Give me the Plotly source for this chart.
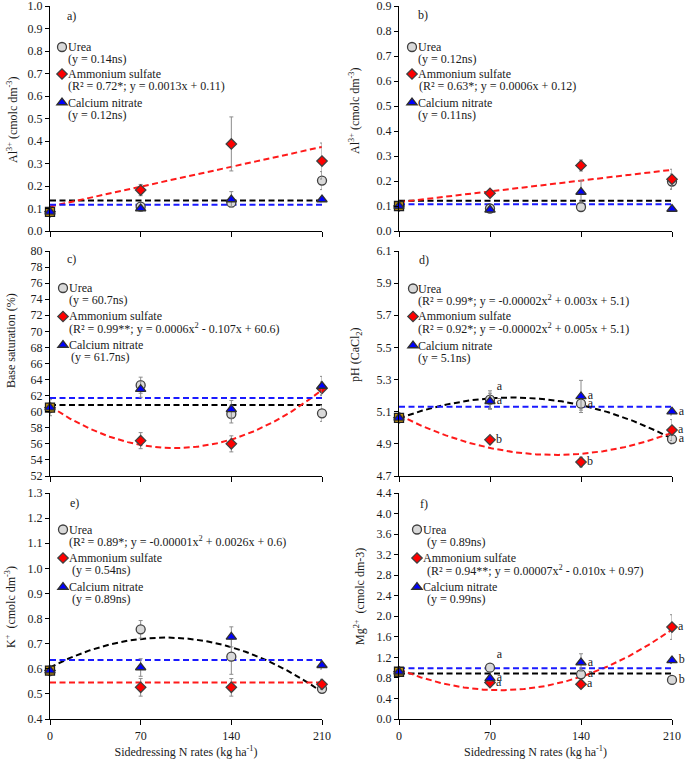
import numpy as np
import plotly.graph_objects as go

# ---------------- data ----------------
rates = [0, 70, 140, 210]

# a) Al3+ (first evaluation)
a_control = 0.085
a_control_err = 0.01
a_urea = [0.108, 0.126, 0.224]
a_urea_err = [0.010, 0.015, 0.040]
a_as = [0.182, 0.387, 0.311]
a_as_err = [0.025, 0.120, 0.080]
a_cn = [0.100, 0.140, 0.140]
a_cn_err = [0.010, 0.035, 0.010]

# b) Al3+ (second evaluation)
b_control = 0.100
b_control_err = 0.01
b_urea = [0.090, 0.096, 0.198]
b_urea_err = [0.010, 0.010, 0.030]
b_as = [0.151, 0.262, 0.207]
b_as_err = [0.010, 0.022, 0.040]
b_cn = [0.085, 0.156, 0.088]
b_cn_err = [0.010, 0.045, 0.008]

# c) Base saturation
c_control = 60.5
c_control_err = 1.0
c_urea = [63.3, 59.7, 59.8]
c_urea_err = [1.0, 1.1, 1.0]
c_as = [56.4, 56.0, 62.9]
c_as_err = [1.0, 1.0, 0.8]
c_cn = [62.8, 60.3, 63.2]
c_cn_err = [1.0, 1.1, 1.2]

# d) pH (CaCl2)
d_control = 5.062
d_control_err = 0.03
d_urea = [5.175, 5.150, 4.930]
d_urea_err = [0.055, 0.040, 0.030]
d_as = [4.925, 4.787, 4.986]
d_as_err = [0.020, 0.030, 0.065]
d_cn = [5.165, 5.195, 5.100]
d_cn_err = [0.050, 0.100, 0.020]
d_urea_letters = ["a", "a", "a"]
d_as_letters = ["b", "b", "a"]
d_cn_letters = ["a", "a", "a"]

# e) K+
e_control = 0.593
e_control_err = 0.02
e_urea = [0.757, 0.648, 0.520]
e_urea_err = [0.035, 0.070, 0.010]
e_as = [0.526, 0.526, 0.538]
e_as_err = [0.035, 0.035, 0.020]
e_cn = [0.605, 0.727, 0.614]
e_cn_err = [0.035, 0.040, 0.015]

# f) Mg2+
f_control = 0.92
f_control_err = 0.05
f_urea = [1.00, 0.87, 0.76]
f_urea_err = [0.05, 0.05, 0.06]
f_as = [0.71, 0.677, 1.79]
f_as_err = [0.05, 0.05, 0.24]
f_cn = [0.79, 1.10, 1.14]
f_cn_err = [0.05, 0.17, 0.06]
f_urea_letters = ["a", "a", "b"]
f_as_letters = ["a", "a", "a"]
f_cn_letters = ["a", "a", "b"]

series_names = ["Urea", "Ammonium sulfate", "Calcium nitrate"]

# equation lines shown under each legend entry
a_eqs = ["(y = 0.14ns)", "(R² = 0.72*; y = 0.0013x + 0.11)", "(y = 0.12ns)"]
b_eqs = ["(y = 0.12ns)", "(R² = 0.63*; y = 0.0006x + 0.12)", "(y = 0.11ns)"]
c_eqs = ["(y = 60.7ns)", "(R² = 0.99**; y = 0.0006x<sup>2</sup> - 0.107x + 60.6)", "(y = 61.7ns)"]
d_eqs = ["(R² = 0.99*; y = -0.00002x<sup>2</sup> + 0.003x + 5.1)",
         "(R² = 0.92*; y = -0.00002x<sup>2</sup> + 0.005x + 5.1)", "(y = 5.1ns)"]
e_eqs = ["(R² = 0.89*; y = -0.00001x<sup>2</sup> + 0.0026x + 0.6)", "(y = 0.54ns)", "(y = 0.89ns)"]
f_eqs = ["(y = 0.89ns)", "(R² = 0.94**; y = 0.00007x<sup>2</sup> - 0.010x + 0.97)", "(y = 0.99ns)"]

# fit degree per series (0 = mean line, ns)
a_deg = [0, 1, 0]
b_deg = [0, 1, 0]
c_deg = [0, 2, 0]
d_deg = [2, 2, 0]
e_deg = [2, 0, 0]
f_deg = [0, 2, 0]

y_titles = ["Al<sup>3+</sup> (cmolc dm<sup>-3</sup>)",
            "Al<sup>3+</sup> (cmolc dm<sup>-3</sup>)",
            "Base saturation (%)",
            "pH (CaCl<sub>2</sub>)",
            "K<sup>+</sup>  (cmolc dm<sup>-3</sup>)",
            "Mg<sup>2+</sup>  (cmolc dm-3)"]
panel_labels = ["a)", "b)", "c)", "d)", "e)", "f)"]
x_title = "Sidedressing N rates (kg ha<sup>-1</sup>)"

# ---------------- style ----------------
FONT = "Liberation Serif"
TXT = "#1a1a1a"
W, H = 685, 760
x_dom = [[50 / W, 322 / W], [399 / W, 672 / W]]
y_dom = [[1 - 231 / H, 1 - 6 / H], [1 - 476 / H, 1 - 251 / H], [1 - 719 / H, 1 - 493 / H]]
y_ranges = [[0, 1.0], [0, 0.9], [52, 80], [4.7, 6.1], [0.4, 1.3], [0, 4.4]]
y_dticks = [0.1, 0.1, 2, 0.2, 0.1, 0.4]
y_fmt = [".1f", ".1f", "d", ".1f", ".1f", ".1f"]

series_style = [
    dict(symbol="circle", color="#D9D9D9", line="#404040", size=9, lcolor="#000000"),
    dict(symbol="diamond", color="#FF0000", line="#404040", size=8, lcolor="#FF1A1A"),
    dict(symbol="triangle-up", color="#0000FF", line="#303030", size=9, lcolor="#1A1AFF"),
]
ERR = "#8C8C8C"

# legend block geometry (px): symbol x, name x, equation x per entry, first-line y per entry
leg_sym_x = [62, 412, 63, 413, 63, 417]
leg_txt_x = [68, 418, 69, 418, 69, 423]
leg_eq_x = [[68, 68, 68], [418, 419, 418], [69, 69, 71], [418, 418, 418], [69, 72, 72], [427, 427, 427]]
leg_y = [[47, 74, 102.5], [47, 74, 102.5], [288, 316.5, 345], [288.5, 316.5, 345.5],
         [529.5, 558, 587], [529.5, 558, 587]]
EQ_DY = 12
SYM_DX = 20
SYM_DY = 0
TXT_DX = -2

label_pos = [(65, 16), (416, 15), (65, 259), (417, 260), (68, 503), (418, 504)]
ytitle_pos = [(12, 120), (354, 111), (11, 341), (356, 355), (10, 607), (359, 597)]

# letter text positions (one per point; x = 0 carries an empty text)
d_letter_pos = [["middle right", "top right", "middle right", "middle right"],
                ["middle right", "middle right", "middle right", "middle right"],
                ["middle right", "middle right", "middle right", "middle right"]]
f_letter_pos = [["middle right", "top right", "middle right", "middle right"],
                ["middle right", "middle right", "middle right", "middle right"],
                ["middle right", "middle right", "middle right", "middle right"]]

panels = [
    (a_control, a_control_err, [a_urea, a_as, a_cn], [a_urea_err, a_as_err, a_cn_err], a_deg, a_eqs, None, None),
    (b_control, b_control_err, [b_urea, b_as, b_cn], [b_urea_err, b_as_err, b_cn_err], b_deg, b_eqs, None, None),
    (c_control, c_control_err, [c_urea, c_as, c_cn], [c_urea_err, c_as_err, c_cn_err], c_deg, c_eqs, None, None),
    (d_control, d_control_err, [d_urea, d_as, d_cn], [d_urea_err, d_as_err, d_cn_err], d_deg, d_eqs,
     [d_urea_letters, d_as_letters, d_cn_letters], d_letter_pos),
    (e_control, e_control_err, [e_urea, e_as, e_cn], [e_urea_err, e_as_err, e_cn_err], e_deg, e_eqs, None, None),
    (f_control, f_control_err, [f_urea, f_as, f_cn], [f_urea_err, f_as_err, f_cn_err], f_deg, f_eqs,
     [f_urea_letters, f_as_letters, f_cn_letters], f_letter_pos),
]

fig = go.Figure()
layout = dict(width=W, height=H, margin=dict(l=0, r=0, t=0, b=0, autoexpand=False),
              paper_bgcolor="white", plot_bgcolor="white", showlegend=True,
              font=dict(family=FONT, size=12, color=TXT))
annotations = []
xfine = np.linspace(0, 210, 211)
tfont = dict(size=12, family=FONT, color=TXT)

for p, (ctrl, ctrl_err, series, errs, degs, eqs, letters, lpos) in enumerate(panels):
    row, col = divmod(p, 2)
    k = p + 1
    xa = "x" if k == 1 else f"x{k}"
    ya = "y" if k == 1 else f"y{k}"

    # trend lines (fitted to treatment means incl. control)
    for s in range(3):
        yv = [ctrl] + list(series[s])
        coef = np.polyfit(rates, yv, degs[s])
        fig.add_trace(go.Scatter(x=xfine, y=np.polyval(coef, xfine), mode="lines",
                                 line=dict(color=series_style[s]["lcolor"], width=2, dash="6px,3.5px"),
                                 xaxis=xa, yaxis=ya, showlegend=False, hoverinfo="skip"))

    def series_trace(s):
        st = series_style[s]
        li = p * 3 + s + 1
        leg = "legend" if li == 1 else f"legend{li}"
        kw = dict(x=rates, y=[ctrl] + list(series[s]), name="",
                  hovertext=series_names[s], hoverinfo="text+y",
                  marker=dict(symbol=st["symbol"], size=st["size"], color=st["color"],
                              line=dict(color=st["line"], width=1.3)),
                  error_y=dict(type="data", array=[0] + list(errs[s]), color=ERR, thickness=1, width=2),
                  xaxis=xa, yaxis=ya, legend=leg, cliponaxis=False, mode="markers")
        if letters is not None:
            kw.update(mode="markers+text", text=[""] + list(letters[s]), textposition=lpos[s],
                      textfont=tfont)
        layout[leg] = dict(x=(leg_sym_x[p] - SYM_DX) / W, y=1 - (leg_y[p][s] + SYM_DY) / H,
                           xanchor="left", yanchor="middle", bgcolor="rgba(0,0,0,0)",
                           font=tfont, itemwidth=30)
        # legend entry name and equation line
        annotations.append(dict(x=(leg_txt_x[p] + TXT_DX) / W, y=1 - leg_y[p][s] / H, xref="paper",
                                yref="paper", text=series_names[s], showarrow=False, xanchor="left",
                                yanchor="middle", font=tfont))
        annotations.append(dict(x=(leg_eq_x[p][s] + TXT_DX) / W, y=1 - (leg_y[p][s] + EQ_DY) / H,
                                xref="paper", yref="paper", text=eqs[s], showarrow=False,
                                xanchor="left", yanchor="middle", font=tfont))
        return go.Scatter(**kw)

    fig.add_trace(series_trace(0))
    fig.add_trace(series_trace(1))
    # control (0 kg N) square
    fig.add_trace(go.Scatter(x=[rates[0]], y=[ctrl], mode="markers",
                             marker=dict(symbol="square", size=9, color="#C9980C",
                                         line=dict(color="#202020", width=1.3)),
                             error_y=dict(type="data", array=[ctrl_err], color=ERR, thickness=1, width=2),
                             xaxis=xa, yaxis=ya, showlegend=False, cliponaxis=False))
    fig.add_trace(series_trace(2))

    # panel label
    lx, ly = label_pos[p]
    annotations.append(dict(x=lx / W, y=1 - ly / H, xref="paper", yref="paper", text=panel_labels[p],
                            showarrow=False, xanchor="left", yanchor="middle", font=tfont))
    # y title
    tx, ty = ytitle_pos[p]
    annotations.append(dict(x=tx / W, y=1 - ty / H, xref="paper", yref="paper", text=y_titles[p],
                            showarrow=False, xanchor="center", yanchor="middle", textangle=-90, font=tfont))
    # axes
    xkey = "xaxis" if k == 1 else f"xaxis{k}"
    ykey = "yaxis" if k == 1 else f"yaxis{k}"
    layout[xkey] = dict(domain=x_dom[col], anchor=ya, range=[0, 210], tickvals=rates,
                        showticklabels=(row == 2), ticks="outside", ticklen=5, tickcolor="black",
                        showline=True, linecolor="black", linewidth=1.3, showgrid=False, zeroline=False,
                        tickfont=tfont, automargin=False, ticklabeloverflow="allow",
                        title=dict(text=x_title if row == 2 else "", font=tfont, standoff=6))
    layout[ykey] = dict(domain=y_dom[row], anchor=xa, range=y_ranges[p], dtick=y_dticks[p],
                        tick0=y_ranges[p][0], tickformat=y_fmt[p], ticks="outside", ticklen=4,
                        tickcolor="black", showline=True, linecolor="black", linewidth=1.3,
                        showgrid=False, zeroline=False, tickfont=tfont, automargin=False,
                        ticklabeloverflow="allow")

layout["annotations"] = annotations
fig.update_layout(**layout)
fig.write_html("out.html", config={"displayModeBar": False},
               post_script="document.body.style.margin='0';")
